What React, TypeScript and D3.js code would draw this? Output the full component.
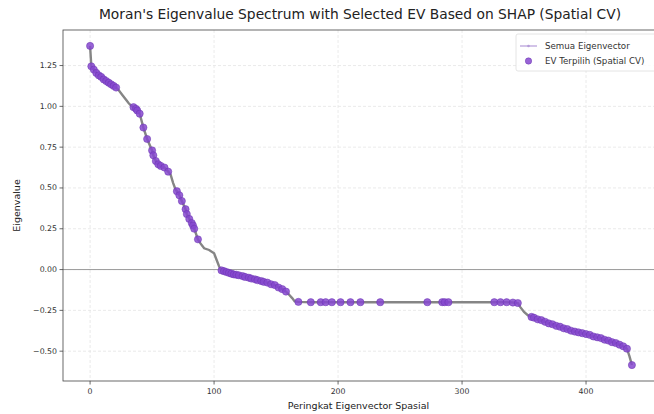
import * as d3 from 'd3'

// eigenvalues chosen by SHAP (Spatial CV)
const selectedRank = [
  0, 1, 3, 5, 7, 9, 11, 13, 15, 17, 19, 21,
  35, 37, 38, 40, 43, 46, 50, 51, 53, 55, 57, 60, 63,
  70, 72, 74, 77, 78, 80, 82, 83, 84, 87,
  106, 108, 110, 112, 114, 116, 118, 120, 123, 125, 128, 130, 133, 135, 138, 140, 143, 146, 149, 152, 155, 158,
  168, 178, 186, 190, 195, 202, 210, 218, 234,
  272, 284, 286, 289,
  326, 331, 336, 341, 345,
  356, 358, 361, 364, 367, 370, 373, 376, 379, 382, 385, 388, 391, 394, 397, 400, 403, 406, 409, 412, 415, 418, 421, 424, 427, 430, 433, 437,
]
const selectedValue = [
  1.37, 1.245, 1.225, 1.205, 1.19, 1.18, 1.165, 1.155, 1.145, 1.135, 1.125, 1.115,
  0.995, 0.985, 0.975, 0.955, 0.87, 0.8, 0.73, 0.7, 0.665, 0.645, 0.635, 0.625, 0.6,
  0.48, 0.455, 0.42, 0.37, 0.34, 0.31, 0.285, 0.27, 0.25, 0.185,
  -0.005, -0.01, -0.015, -0.02, -0.025, -0.03, -0.032, -0.035, -0.04, -0.045, -0.05, -0.055, -0.06, -0.065, -0.07, -0.075, -0.08, -0.09, -0.095, -0.11, -0.12, -0.135,
  -0.198, -0.2, -0.2, -0.2, -0.2, -0.2, -0.2, -0.2, -0.2,
  -0.2, -0.2, -0.2, -0.2,
  -0.2, -0.2, -0.2, -0.202, -0.205,
  -0.29, -0.295, -0.305, -0.31, -0.32, -0.33, -0.335, -0.345, -0.35, -0.36, -0.365, -0.375, -0.38, -0.385, -0.39, -0.395, -0.4, -0.41, -0.415, -0.42, -0.43, -0.435, -0.445, -0.45, -0.46, -0.47, -0.485, -0.585,
]

// remaining eigenvalues of the spectrum (line only)
const otherRank = [23, 26, 29, 31, 33, 65, 67, 69, 89, 92, 96, 100, 102, 104, 160, 163, 165, 250, 300, 347, 350, 353, 435]
const otherValue = [1.1, 1.07, 1.04, 1.02, 1.005, 0.58, 0.53, 0.49, 0.16, 0.13, 0.12, 0.1, 0.06, 0.02, -0.15, -0.175, -0.195, -0.2, -0.2, -0.23, -0.26, -0.28, -0.53]

const xTicks = [0, 100, 200, 300, 400]
const yTicks = [-0.5, -0.25, 0, 0.25, 0.5, 0.75, 1.0, 1.25]

const W = 654
const H = 414
const margin = { left: 63, right: -5, top: 30, bottom: 33 }
const font = 'DejaVu Sans, sans-serif'

export default function App() {
  const selected = selectedRank.map((r, i) => ({ r, v: selectedValue[i] }))
  const all = selected
    .concat(otherRank.map((r, i) => ({ r, v: otherValue[i] })))
    .sort((a, b) => a.r - b.r)

  const n = d3.max(all, (d) => d.r) as number
  const vMin = d3.min(all, (d) => d.v) as number
  const vMax = d3.max(all, (d) => d.v) as number
  const padX = n * 0.05
  const padY = (vMax - vMin) * 0.05

  const x = d3.scaleLinear().domain([-padX, n + padX]).range([margin.left, W - margin.right])
  const y = d3.scaleLinear().domain([vMin - padY, vMax + padY]).range([H - margin.bottom, margin.top])

  const line = d3.line<{ r: number; v: number }>().x((d) => x(d.r)).y((d) => y(d.v))
  const fmt = (t: number) => (t < 0 ? '\u2212' : '') + Math.abs(t).toFixed(2)

  const x0 = margin.left
  const x1 = W - margin.right
  const y0 = H - margin.bottom
  const y1 = margin.top
  const purple = '#8648cf'

  return (
    <svg width={W} height={H} style={{ position: 'absolute', left: 0, top: 0, background: '#fff' }} fontFamily={font}>
      <text x={360} y={19} textAnchor="middle" fontSize={13.8} fill="#222">
        Moran's Eigenvalue Spectrum with Selected EV Based on SHAP (Spatial CV)
      </text>

      {/* grid */}
      {xTicks.map((t) => (
        <line key={'gx' + t} x1={x(t)} x2={x(t)} y1={y1} y2={y0} stroke="#e4e4e4" strokeWidth={0.8} strokeDasharray="3,2" />
      ))}
      {yTicks.map((t) => (
        <line key={'gy' + t} x1={x0} x2={x1} y1={y(t)} y2={y(t)} stroke="#e4e4e4" strokeWidth={0.8} strokeDasharray="3,2" />
      ))}

      {/* zero reference */}
      <line x1={x0} x2={x1} y1={y(0)} y2={y(0)} stroke="#9a9a9a" strokeWidth={1} />

      <path d={line(all) as string} fill="none" stroke="#858585" strokeWidth={2.4} />
      {selected.map((d) => (
        <circle key={d.r} cx={x(d.r)} cy={y(d.v)} r={3.6} fill={purple} fillOpacity={0.85} stroke="#6a35b0" strokeWidth={0.5} />
      ))}

      {/* spines */}
      <rect x={x0} y={y1} width={x1 - x0} height={y0 - y1} fill="none" stroke="#444" strokeWidth={0.8} />

      {xTicks.map((t) => (
        <g key={'xt' + t} transform={`translate(${x(t)},${y0})`}>
          <line y2={3.5} stroke="#444" strokeWidth={0.8} />
          <text y={13} textAnchor="middle" fontSize={7.8} fill="#333">{t}</text>
        </g>
      ))}
      {yTicks.map((t) => (
        <g key={'yt' + t} transform={`translate(${x0},${y(t)})`}>
          <line x2={-3.5} stroke="#444" strokeWidth={0.8} />
          <text x={-6} dy="0.32em" textAnchor="end" fontSize={7.8} fill="#333">{fmt(t)}</text>
        </g>
      ))}

      <text x={(x0 + 654) / 2} y={409} textAnchor="middle" fontSize={9.5} fill="#222">Peringkat Eigenvector Spasial</text>
      <text transform={`translate(20,${(y0 + y1) / 2}) rotate(-90)`} textAnchor="middle" fontSize={9.5} fill="#222">Eigenvalue</text>

      {/* legend */}
      <g>
        <rect x={516} y={34} width={150} height={37} rx={2} fill="#fff" fillOpacity={0.85} stroke="#ddd" strokeWidth={0.8} />
        <line x1={520} x2={537} y1={46} y2={46} stroke="#b49bd8" strokeWidth={1.2} />
        <circle cx={528.5} cy={46} r={1.3} fill="#b49bd8" />
        <text x={545} y={46} dy="0.32em" fontSize={8.7} fill="#333">Semua Eigenvector</text>
        <circle cx={528.5} cy={61} r={3.2} fill={purple} fillOpacity={0.85} stroke="#6a35b0" strokeWidth={0.5} />
        <text x={545} y={61} dy="0.32em" fontSize={8.7} fill="#333">EV Terpilih (Spatial CV)</text>
      </g>
    </svg>
  )
}
